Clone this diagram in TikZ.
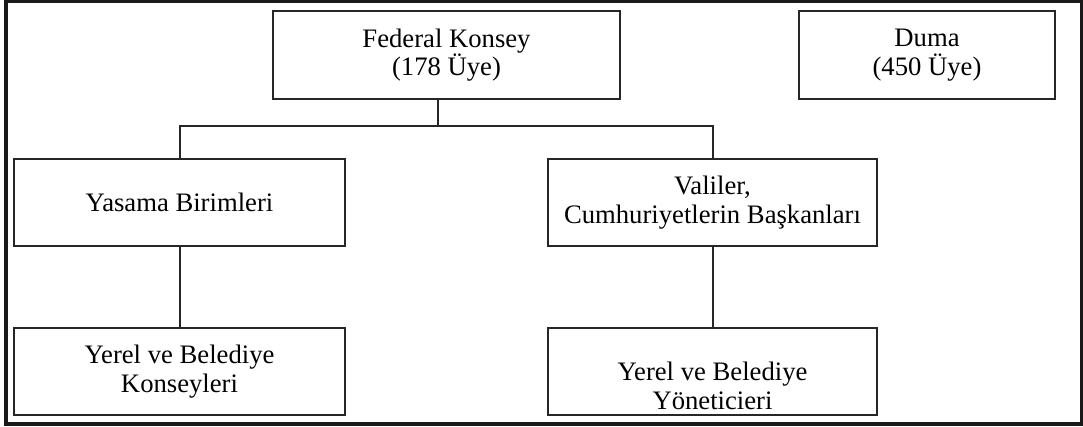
\documentclass[tikz,border=0pt]{standalone}
\usepackage{fontspec}
\setmainfont{Liberation Serif}
\begin{document}
\begin{tikzpicture}[x=0.75pt,y=-0.75pt,
  box/.style={draw=black!85,line width=1.5pt,align=center,inner sep=0pt,
    font=\fontsize{20}{21.5}\selectfont},
  link/.style={draw=black!85,line width=1.5pt}]
\useasboundingbox (0,0) rectangle (1083,426);
\draw[line width=2.4pt,black!90] (6,1.5) rectangle (1082,424);
% boxes
\node[box,minimum width=347*0.75pt,minimum height=88*0.75pt] (fk) at (446.5,55) {Federal Konsey\\(178 Üye)};
\node[box,minimum width=256*0.75pt,minimum height=88*0.75pt] (du) at (927,55) {Duma\\(450 Üye)};
\node[box,minimum width=331*0.75pt,minimum height=87*0.75pt] (ya) at (179.5,202.5) {Yasama Birimleri};
\node[box,minimum width=329*0.75pt,minimum height=87*0.75pt] (va) at (712.5,202.5) {Valiler,\\Cumhuriyetlerin Başkanları};
\node[box,minimum width=331*0.75pt,minimum height=87*0.75pt] (yk) at (179.5,371.5) {Yerel ve Belediye\\Konseyleri};
\node[box,minimum width=329*0.75pt,minimum height=87*0.75pt] (yy) at (712.5,371.5) {};
\node[align=center,inner sep=0pt,font=\fontsize{20}{21.5}\selectfont] (yyt) at (712.5,386) {Yerel ve Belediye\\Yöneticieri};
% connectors
\coordinate (j) at (438,126);
\draw[link] (fk.south -| j) -- (j);
\draw[link] (ya.north) -- (ya.north |- j) -- (va.north |- j) -- (va.north);
\draw[link] (ya.south) -- (yk.north);
\draw[link] (va.south) -- (yy.north);
\end{tikzpicture}
\end{document}
